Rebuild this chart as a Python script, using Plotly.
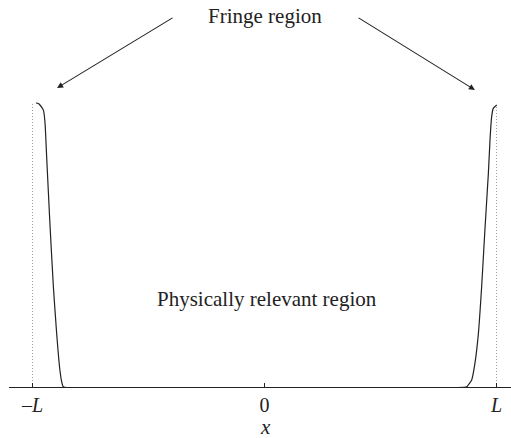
import plotly.graph_objects as go

# Fringe function (x in units of L)
left_x = [-0.985, -0.975, -0.968, -0.953, -0.946, -0.939, -0.925, -0.910, -0.896, -0.882, -0.873, -0.867]
left_y = [1.000, 0.998, 0.993, 0.975, 0.930, 0.811, 0.577, 0.353, 0.190, 0.060, 0.014, 0.001]
right_x = [0.872, 0.878, 0.893, 0.907, 0.922, 0.936, 0.950, 0.965, 0.972, 0.979, 0.986, 1.001]
right_y = [0.001, 0.007, 0.025, 0.083, 0.189, 0.353, 0.553, 0.753, 0.870, 0.951, 0.981, 0.993]

tick_vals = [-1, 0, 1]
tick_text = ["–<i>L</i>", "0", "<i>L</i>"]

FONT = "Liberation Serif"

fig = go.Figure()
fig.add_trace(go.Scatter(x=[-1, -1], y=[0, 1.0], mode="lines",
                         line=dict(color="#a0a0a0", width=1, dash="1px,2px"), hoverinfo="skip"))
fig.add_trace(go.Scatter(x=[1, 1], y=[0, 0.993], mode="lines",
                         line=dict(color="#a0a0a0", width=1, dash="1px,2px"), hoverinfo="skip"))
fig.add_trace(go.Scatter(x=left_x + right_x, y=left_y + right_y, mode="lines",
                         line=dict(color="#222222", width=1.2, shape="spline", smoothing=0.5),
                         hoverinfo="skip"))

fig.add_annotation(x=0, y=1.306, xref="x", yref="y", text="Fringe region", showarrow=False,
                   yanchor="middle", font=dict(family=FONT, size=21, color="#222222"))
fig.add_annotation(x=0.01, y=0.31, xref="x", yref="y", text="Physically relevant region", showarrow=False,
                   yanchor="middle", font=dict(family=FONT, size=21, color="#222222"))
fig.add_annotation(x=0.005, y=-0.1034, xref="x", yref="paper", text="<i>x</i>", showarrow=False,
                   yanchor="middle", font=dict(family=FONT, size=21, color="#222222"))

for tx, ty, hx, hy in [(-0.390, 1.303, -0.894, 1.053), (0.399, 1.303, 0.907, 1.046)]:
    fig.add_annotation(x=hx, y=hy, ax=tx, ay=ty, xref="x", yref="y", axref="x", ayref="y",
                       text="", showarrow=True, arrowhead=2, arrowsize=1.1, arrowwidth=1.1,
                       arrowcolor="#222222")

fig.update_layout(
    width=511, height=438,
    margin=dict(l=9, r=0, t=0, b=51),
    paper_bgcolor="white", plot_bgcolor="white",
    showlegend=False,
    xaxis=dict(range=[-1.1013, 1.0625], showgrid=False, zeroline=False,
               showline=True, linecolor="#222222", linewidth=1.2,
               tickvals=tick_vals, ticktext=tick_text, ticks="inside", ticklen=4,
               tickcolor="#222222", ticklabelstandoff=0,
               tickfont=dict(family=FONT, size=20, color="#222222")),
    yaxis=dict(range=[0, 1.3627], visible=False),
)

fig.write_html("out.html", post_script="document.body.style.margin='0';",
               config={"displayModeBar": False})
